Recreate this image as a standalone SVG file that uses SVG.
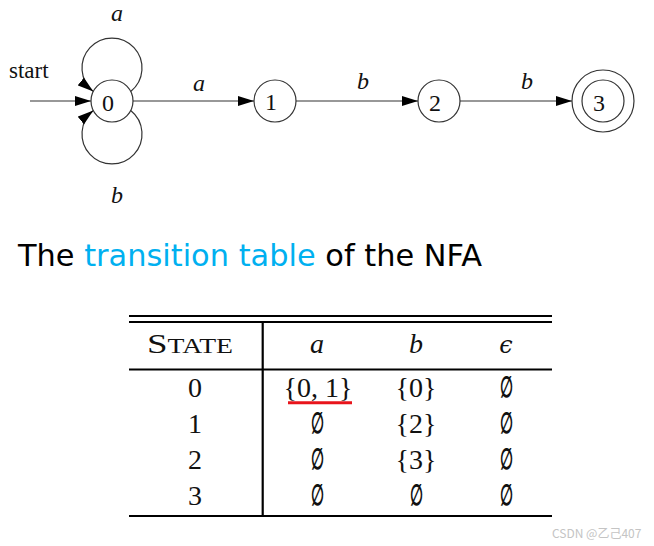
<svg xmlns="http://www.w3.org/2000/svg" width="654" height="546" viewBox="0 0 654 546">
<style>
.node{fill:#fff;stroke:#333;stroke-width:1.2}
.edge{fill:none;stroke:#333;stroke-width:1.2}
.lbl{font-family:"Liberation Serif",serif;font-style:italic;font-size:24px;fill:#111}
.nl{font-family:"Liberation Serif",serif;font-size:24px;fill:#111;text-anchor:middle}
.tt{font-family:"Liberation Serif","DejaVu Serif",serif;font-size:28px;fill:#111;text-anchor:middle}
.es{font-family:"DejaVu Serif",serif;font-size:24px;fill:#111;text-anchor:middle}
.em{font-family:"DejaVu Serif",serif;font-size:24px;font-weight:bold;fill:#111;text-anchor:middle}
.rule{stroke:#000;stroke-width:2.2}
</style>
<defs>
<marker id="ah" viewBox="0 0 16 10" refX="16" refY="5" markerWidth="16" markerHeight="10" markerUnits="userSpaceOnUse" orient="auto">
<path d="M0,0 L16,5 L0,10 Z" fill="#000"/>
</marker>
</defs>
<rect width="654" height="546" fill="#fff"/>
<g id="connectors">
<line class="edge" x1="30" y1="101" x2="91" y2="101" marker-end="url(#ah)"/>
<line class="edge" x1="133" y1="101" x2="254" y2="101" marker-end="url(#ah)"/>
<line class="edge" x1="296" y1="101" x2="418" y2="101" marker-end="url(#ah)"/>
<line class="edge" x1="460" y1="101" x2="572" y2="101" marker-end="url(#ah)"/>
<path class="edge" d="M130.7,91.5 A30,30 0 1,0 93.3,91.5" marker-end="url(#ah)"/>
<path class="edge" d="M130.7,110.5 A30,30 0 1,1 93.3,110.5" marker-end="url(#ah)"/>
<text x="9" y="78" font-family="Liberation Serif,serif" font-size="23" fill="#111">start</text>
<text class="lbl" x="111" y="21">a</text>
<text class="lbl" x="111" y="203">b</text>
<text class="lbl" x="193" y="91">a</text>
<text class="lbl" x="357" y="89">b</text>
<text class="lbl" x="521" y="89">b</text>
</g>
<g id="n0"><circle class="node" cx="112" cy="101" r="21"/><text class="nl" x="108" y="111">0</text></g>
<g id="n1"><circle class="node" cx="275" cy="101" r="21"/><text class="nl" x="271" y="110">1</text></g>
<g id="n2"><circle class="node" cx="439" cy="101" r="21"/><text class="nl" x="435" y="111">2</text></g>
<g id="n3"><circle class="node" cx="603" cy="101" r="31"/><circle class="node" cx="603" cy="101" r="21"/><text class="nl" x="599" y="111">3</text></g>
<g id="caption">
<text x="18" y="266" font-family="DejaVu Sans,sans-serif" font-size="30" textLength="464" lengthAdjust="spacingAndGlyphs" fill="#000">The <tspan fill="#00B0F0">transition table</tspan> of the NFA</text>
</g>
<g id="table">
<line class="rule" x1="129" y1="316" x2="552" y2="316"/>
<line class="rule" x1="129" y1="322" x2="552" y2="322"/>
<line class="rule" x1="129" y1="369.5" x2="552" y2="369.5"/>
<line class="rule" x1="129" y1="516" x2="552" y2="516" stroke-width="2.6"/>
<line class="rule" x1="262.7" y1="322" x2="262.7" y2="516" stroke-width="2.7"/>
<text x="147" y="353" font-family="Liberation Serif,serif" font-size="28" fill="#111" textLength="86" lengthAdjust="spacingAndGlyphs">S<tspan font-size="21">TATE</tspan></text>
<text class="tt" x="317" y="353" font-style="italic">a</text>
<text class="tt" x="416" y="353" font-style="italic">b</text>
<text class="es" x="506" y="353" font-style="italic">ϵ</text>
<text class="tt" x="195" y="397">0</text>
<text class="tt" x="318" y="397">{0, 1}</text>
<text class="tt" x="416" y="397">{0}</text>
<text class="em" transform="translate(506 397) scale(0.62 1.2)">∅</text>
<line x1="288" y1="402.7" x2="352" y2="402.7" stroke="#e8141b" stroke-width="3"/>
<text class="tt" x="195" y="433">1</text>
<text class="em" transform="translate(317 433) scale(0.62 1.2)">∅</text>
<text class="tt" x="416" y="433">{2}</text>
<text class="em" transform="translate(506 433) scale(0.62 1.2)">∅</text>
<text class="tt" x="195" y="469">2</text>
<text class="em" transform="translate(317 469) scale(0.62 1.2)">∅</text>
<text class="tt" x="416" y="469">{3}</text>
<text class="em" transform="translate(506 469) scale(0.62 1.2)">∅</text>
<text class="tt" x="195" y="505">3</text>
<text class="em" transform="translate(317 505) scale(0.62 1.2)">∅</text>
<text class="em" transform="translate(416 505) scale(0.62 1.2)">∅</text>
<text class="em" transform="translate(506 505) scale(0.62 1.2)">∅</text>
</g>
<text x="552" y="538" font-family="Noto Sans CJK SC,sans-serif" font-size="12" fill="#c4c4c4">CSDN @乙己407</text>
</svg>
